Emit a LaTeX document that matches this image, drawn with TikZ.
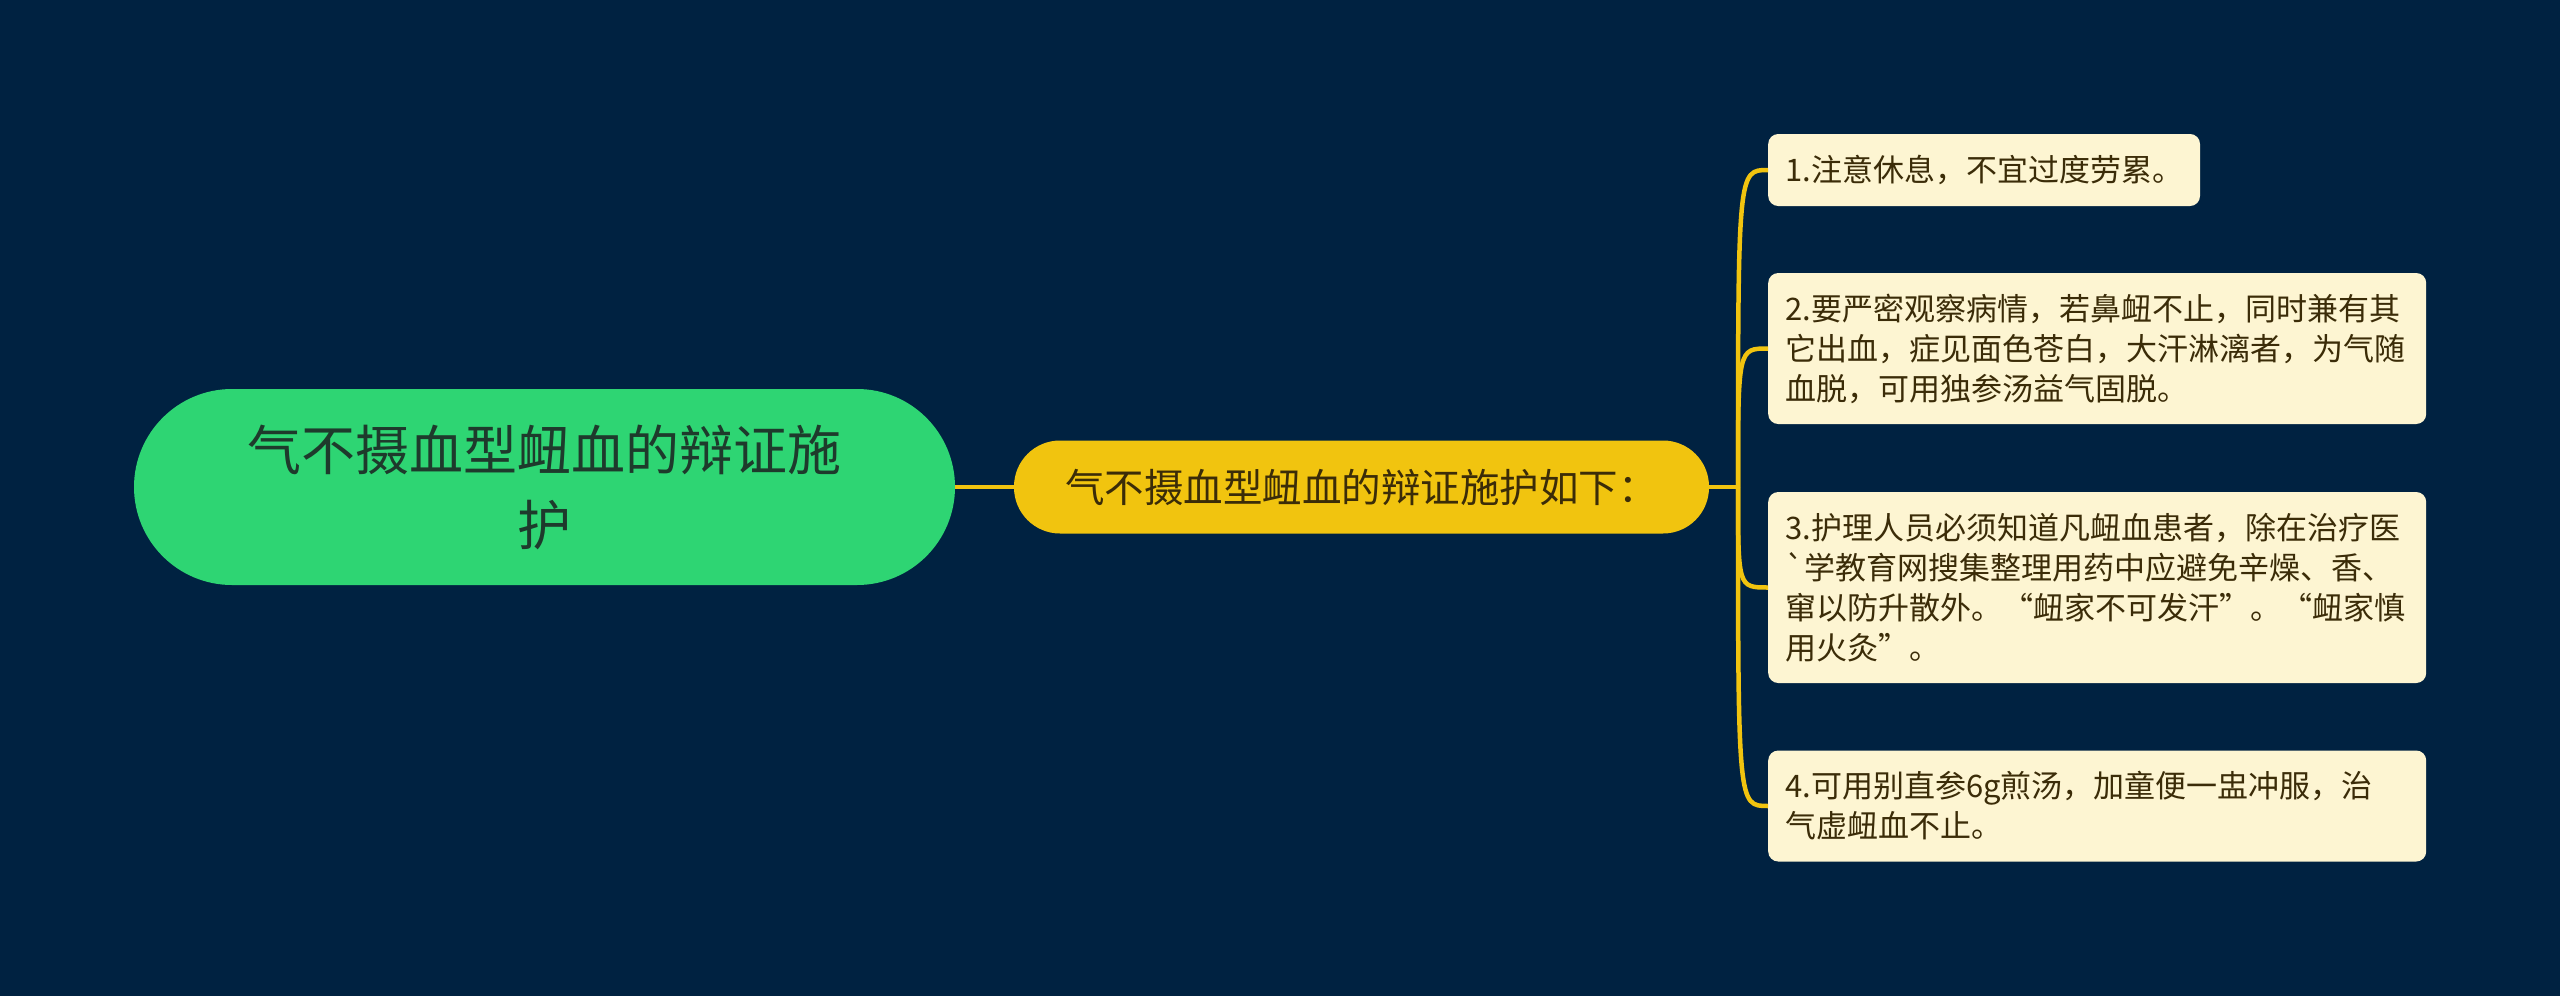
\documentclass[tikz,border=0pt]{standalone}
\usepackage{fontspec}
\setmainfont{Noto Sans CJK SC}[Ligatures=TeXOff]
\definecolor{mybg}{HTML}{002241}
\definecolor{mygreen}{HTML}{2ED573}
\definecolor{myyellow}{HTML}{F1C40F}
\definecolor{mycream}{HTML}{FDF5D2}
\definecolor{mybrown}{HTML}{3B2C08}
\definecolor{mydark}{HTML}{1E3A2C}

\begin{document}
\begin{tikzpicture}[x=1pt, y=-1pt,
  link/.style={draw=myyellow, line width=4.5pt},
  leaf/.style={fill=mycream, text=mybrown, rounded corners=10pt, anchor=west,
    align=left, inner xsep=17pt, inner ysep=0pt,
    font=\fontsize{31}{40}\selectfont}]
\fill[mybg] (0,0) rectangle (2560,996);
\useasboundingbox (0,0) rectangle (2560,996);

\node[fill=mygreen, text=mydark, rounded corners=98pt, minimum width=821pt,
  minimum height=196pt, align=center, font=\fontsize{54}{75}\selectfont]
  (root) at (544.5,487) {气不摄血型衄血的辩证施\\护};
\node[fill=myyellow, text=mybrown, rounded corners=46pt, minimum width=695pt,
  minimum height=93pt, font=\fontsize{39.5}{46}\selectfont]
  (sub) at (1361.5,487) {气不摄血型衄血的辩证施护如下：};
\coordinate (fork) at (1738,487);

\node[leaf, minimum height=72pt] (tip1) at (1768,170) {1.注意休息，不宜过度劳累。};
\node[leaf, text width=624pt, minimum height=151pt] (tip2) at (1768,348.5)
  {2.要严密观察病情，若鼻衄不止，同时兼有其\\它出血，症见面色苍白，大汗淋漓者，为气随\\血脱，可用独参汤益气固脱。};
\node[leaf, text width=624pt, minimum height=191pt] (tip3) at (1768,587.5)
  {3.护理人员必须知道凡衄血患者，除在治疗医\\`学教育网搜集整理用药中应避免辛燥、香、\\窜以防升散外。“衄家不可发汗”。“衄家慎\\用火灸”。};
\node[leaf, text width=624pt, minimum height=111pt] (tip4) at (1768,806)
  {4.可用别直参6g煎汤，加童便一盅冲服，治\\气虚衄血不止。};

\draw[link] (root.east) -- (sub.west);
\draw[link] (sub.east) -- (fork);
\foreach \t in {tip1,tip2,tip3,tip4}
  \draw[link] (fork) .. controls (fork |- \t.west) .. (\t.west);
\end{tikzpicture}
\end{document}
